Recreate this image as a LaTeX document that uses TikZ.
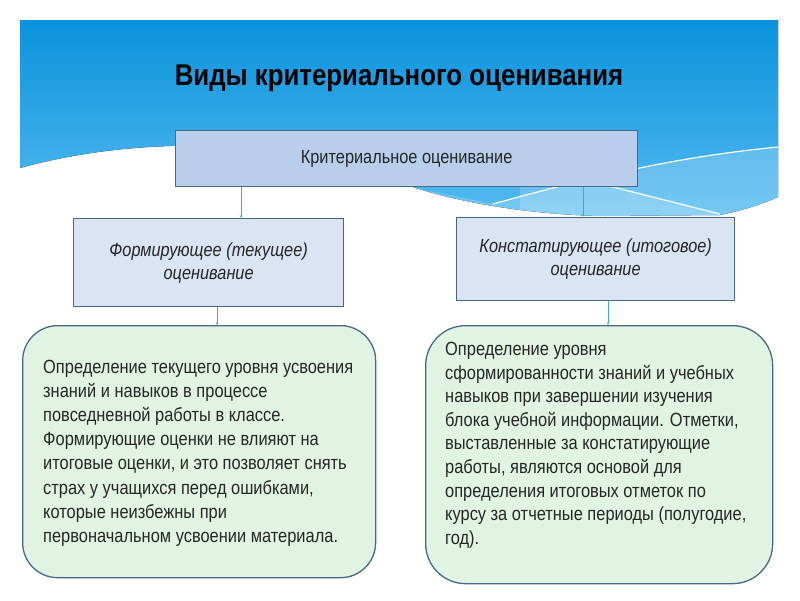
\documentclass[tikz,border=0pt]{standalone}
\usepackage{fontspec}
\setmainfont[FakeStretch=0.86]{Liberation Sans}
\usetikzlibrary{arrows.meta}
\definecolor{bluetop}{HTML}{0A92DC}
\definecolor{bluebot}{HTML}{55BAF0}
\definecolor{boxedge}{HTML}{46698A}
\definecolor{topfill}{HTML}{B8CEEB}
\definecolor{childfill}{HTML}{DAE4F3}
\definecolor{greenfill}{HTML}{E1F4E3}
\definecolor{arrowc}{HTML}{3FA6E6}
\definecolor{txt}{HTML}{262626}
\begin{document}
\begin{tikzpicture}[x=1pt,y=-1pt,
  boxbase/.style={draw=boxedge, line width=1.3pt, inner sep=0pt, anchor=north west, text=txt, align=center},
  topbox/.style={boxbase, fill=topfill, font=\fontsize{19}{22}\selectfont},
  childbox/.style={boxbase, fill=childfill, font=\fontsize{19}{23}\itshape},
  greenbox/.style={boxbase, fill=greenfill},
  bodytext/.style={anchor=north west, inner sep=0pt, align=left, text=txt},
  arr/.style={draw=arrowc, line width=0.8pt, -{Stealth[length=3pt,width=2.5pt]}}
]
\useasboundingbox (0,0) rectangle (800,600);
\fill[white] (0,0) rectangle (800,600);
\def\bluepath{(20,20) -- (778,20) -- (778,197) .. controls (760,205) and (740,211) .. (720,215) -- (600,216) .. controls (520,214) and (450,200) .. (410,186) .. controls (330,160) and (250,144) .. (170,146) .. controls (110,148) and (60,157) .. (20,168) -- cycle}
\fill[top color=bluetop, bottom color=bluebot] \bluepath;
\begin{scope}
  \clip \bluepath;
  \fill[white, opacity=0.2] (400,185) -- (493,204) .. controls (580,180) and (680,155) .. (790,146) -- (790,240) -- (400,240) -- cycle;
  \fill[white, opacity=0.18] (520,164) -- (720,214) -- (520,240) -- cycle;
  \draw[white, line width=1.2pt] (493,204) .. controls (580,180) and (680,155) .. (790,146);
  \draw[white, line width=1.2pt] (530,166) -- (720,214);
\end{scope}

\node[anchor=base, font=\fontsize{30}{36}\bfseries] (title) at (399,85) {Виды критериального оценивания};

\node[topbox, minimum width=462pt, minimum height=56pt] (top) at (175,130) {Критериальное оценивание};
\node[childbox, minimum width=270pt, minimum height=88pt] (lc) at (73,218) {Формирующее (текущее)\\оценивание};
\node[childbox, minimum width=278pt, minimum height=83pt] (rc) at (456,217) {Констатирующее (итоговое)\\оценивание};
\node[greenbox, rounded corners=35pt, minimum width=353pt, minimum height=252pt] (lb) at (22,325) {};
\node[greenbox, rounded corners=40pt, minimum width=347pt, minimum height=258pt] (rb) at (425,325) {};

\node[bodytext, font=\fontsize{19.1}{24.1}\selectfont] (lt) at (43,360) {Определение текущего уровня усвоения\\знаний и навыков в процессе\\повседневной работы в классе.\\Формирующие оценки не влияют на\\итоговые оценки, и это позволяет снять\\страх у учащихся перед ошибками,\\которые неизбежны при\\первоначальном усвоении материала.};
\node[bodytext, font=\fontsize{19.1}{23.6}\selectfont] (rt) at (445,342) {Определение уровня\\сформированности знаний и учебных\\навыков при завершении изучения\\блока учебной информации. Отметки,\\выставленные за констатирующие\\работы, являются основой для\\определения итоговых отметок по\\курсу за отчетные периоды (полугодие,\\год).};

\draw[arr] (top.south -| 241,0) -- (lc.north -| 241,0);
\draw[arr] (top.south -| 583,0) -- (rc.north -| 583,0);
\draw[arr] (lc.south -| 217,0) -- (lb.north -| 217,0);
\draw[arr] (rc.south -| 608,0) -- (rb.north -| 608,0);
\end{tikzpicture}
\end{document}
